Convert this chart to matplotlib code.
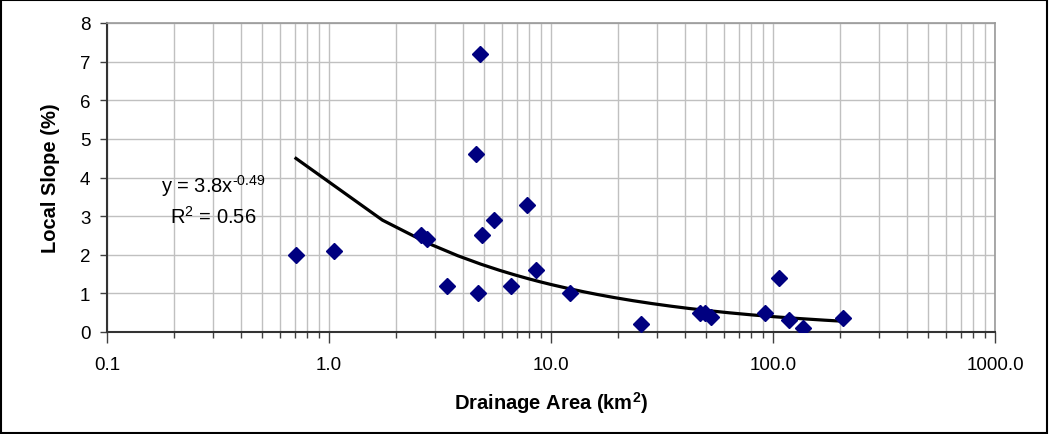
import numpy as np
import matplotlib
matplotlib.use("Agg")
import matplotlib.pyplot as plt
from matplotlib.ticker import LogLocator, FixedLocator, NullFormatter
from matplotlib.patches import Rectangle

plt.rcParams["font.family"] = ["Liberation Sans", "DejaVu Sans"]
plt.rcParams["mathtext.fontset"] = "custom"
plt.rcParams["mathtext.rm"] = "Liberation Sans"
plt.rcParams["mathtext.it"] = "Liberation Sans:italic"
plt.rcParams["mathtext.bf"] = "Liberation Sans:bold"

# drainage area (km2) and local slope (%)
area = [0.71, 1.05, 2.6, 2.76, 3.4, 4.79, 4.59, 4.69, 4.89, 5.53, 6.6, 7.8, 8.55,
        12.2, 25.4, 46.9, 49.4, 52.6, 92.0, 106.0, 118.0, 136.0, 206.0]
slope = [2.0, 2.1, 2.5, 2.4, 1.2, 7.2, 4.6, 1.0, 2.5, 2.9, 1.2, 3.3, 1.6,
         1.0, 0.2, 0.5, 0.5, 0.4, 0.5, 1.4, 0.3, 0.1, 0.35]

# power trendline from the chart label
fit_a = 3.8
fit_b = -0.49

x_ticks = [0.1, 1.0, 10.0, 100.0, 1000.0]
x_tick_labels = ["0.1", "1.0", "10.0", "100.0", "1000.0"]
y_ticks = [0, 1, 2, 3, 4, 5, 6, 7, 8]

fig = plt.figure(figsize=(10.49, 4.35), dpi=100)
ax = fig.add_axes([107 / 1049, 1 - 333 / 435, 888 / 1049, 309 / 435])

ax.set_xscale("log")
ax.set_xlim(0.1, 1000)
ax.set_ylim(0, 8)

ax.xaxis.set_major_locator(FixedLocator(x_ticks))
ax.set_xticklabels(x_tick_labels)
ax.xaxis.set_minor_locator(LogLocator(base=10, subs=np.arange(2, 10)))
ax.xaxis.set_minor_formatter(NullFormatter())
ax.set_yticks(y_ticks)

ax.grid(True, which="major", axis="both", color="#c0c0c0", linewidth=1)
ax.grid(True, which="minor", axis="x", color="#c0c0c0", linewidth=1)
ax.set_axisbelow(True)

ax.tick_params(axis="x", which="major", direction="out", length=8, width=1,
               color="#404040", labelsize=13.5, pad=9)
ax.tick_params(axis="x", which="minor", direction="out", length=4, width=1,
               color="#404040")
ax.tick_params(axis="y", direction="out", length=5, width=1, color="#404040",
               labelsize=13.5, pad=7)

for side in ["left", "bottom"]:
    ax.spines[side].set_color("#333333")
    ax.spines[side].set_linewidth(1.5)
for side in ["top", "right"]:
    ax.spines[side].set_color("#999999")
    ax.spines[side].set_linewidth(1.2)

xs = np.linspace(min(area), max(area), 200)
ax.plot(xs, fit_a * xs ** fit_b, color="black", linewidth=2.3, zorder=2)
ax.plot(area, slope, linestyle="none", marker="D", markersize=8,
        color="#000080", zorder=3)

# trendline label, exponent written with a plain hyphen as in the original
ax.text(0.30, 3.62, "y = 3.8x$^{\\text{-0.49}}$", fontsize=14.5, ha="center",
        va="baseline")
ax.text(0.30, 2.84, "R$^{2}$ = 0.56", fontsize=14.5, ha="center", va="baseline")

ax.set_xlabel("Drainage Area (km$^{\\mathbf{2}}$)", fontsize=14.5, fontweight="bold",
              labelpad=12)
ax.set_ylabel("Local Slope (%)", fontsize=14.5, fontweight="bold", labelpad=14)

fig.patches.append(Rectangle((0.001, 0.002), 0.997, 0.995, transform=fig.transFigure,
                             fill=False, edgecolor="black", linewidth=1.5))

fig.savefig("out.png", dpi=100)
